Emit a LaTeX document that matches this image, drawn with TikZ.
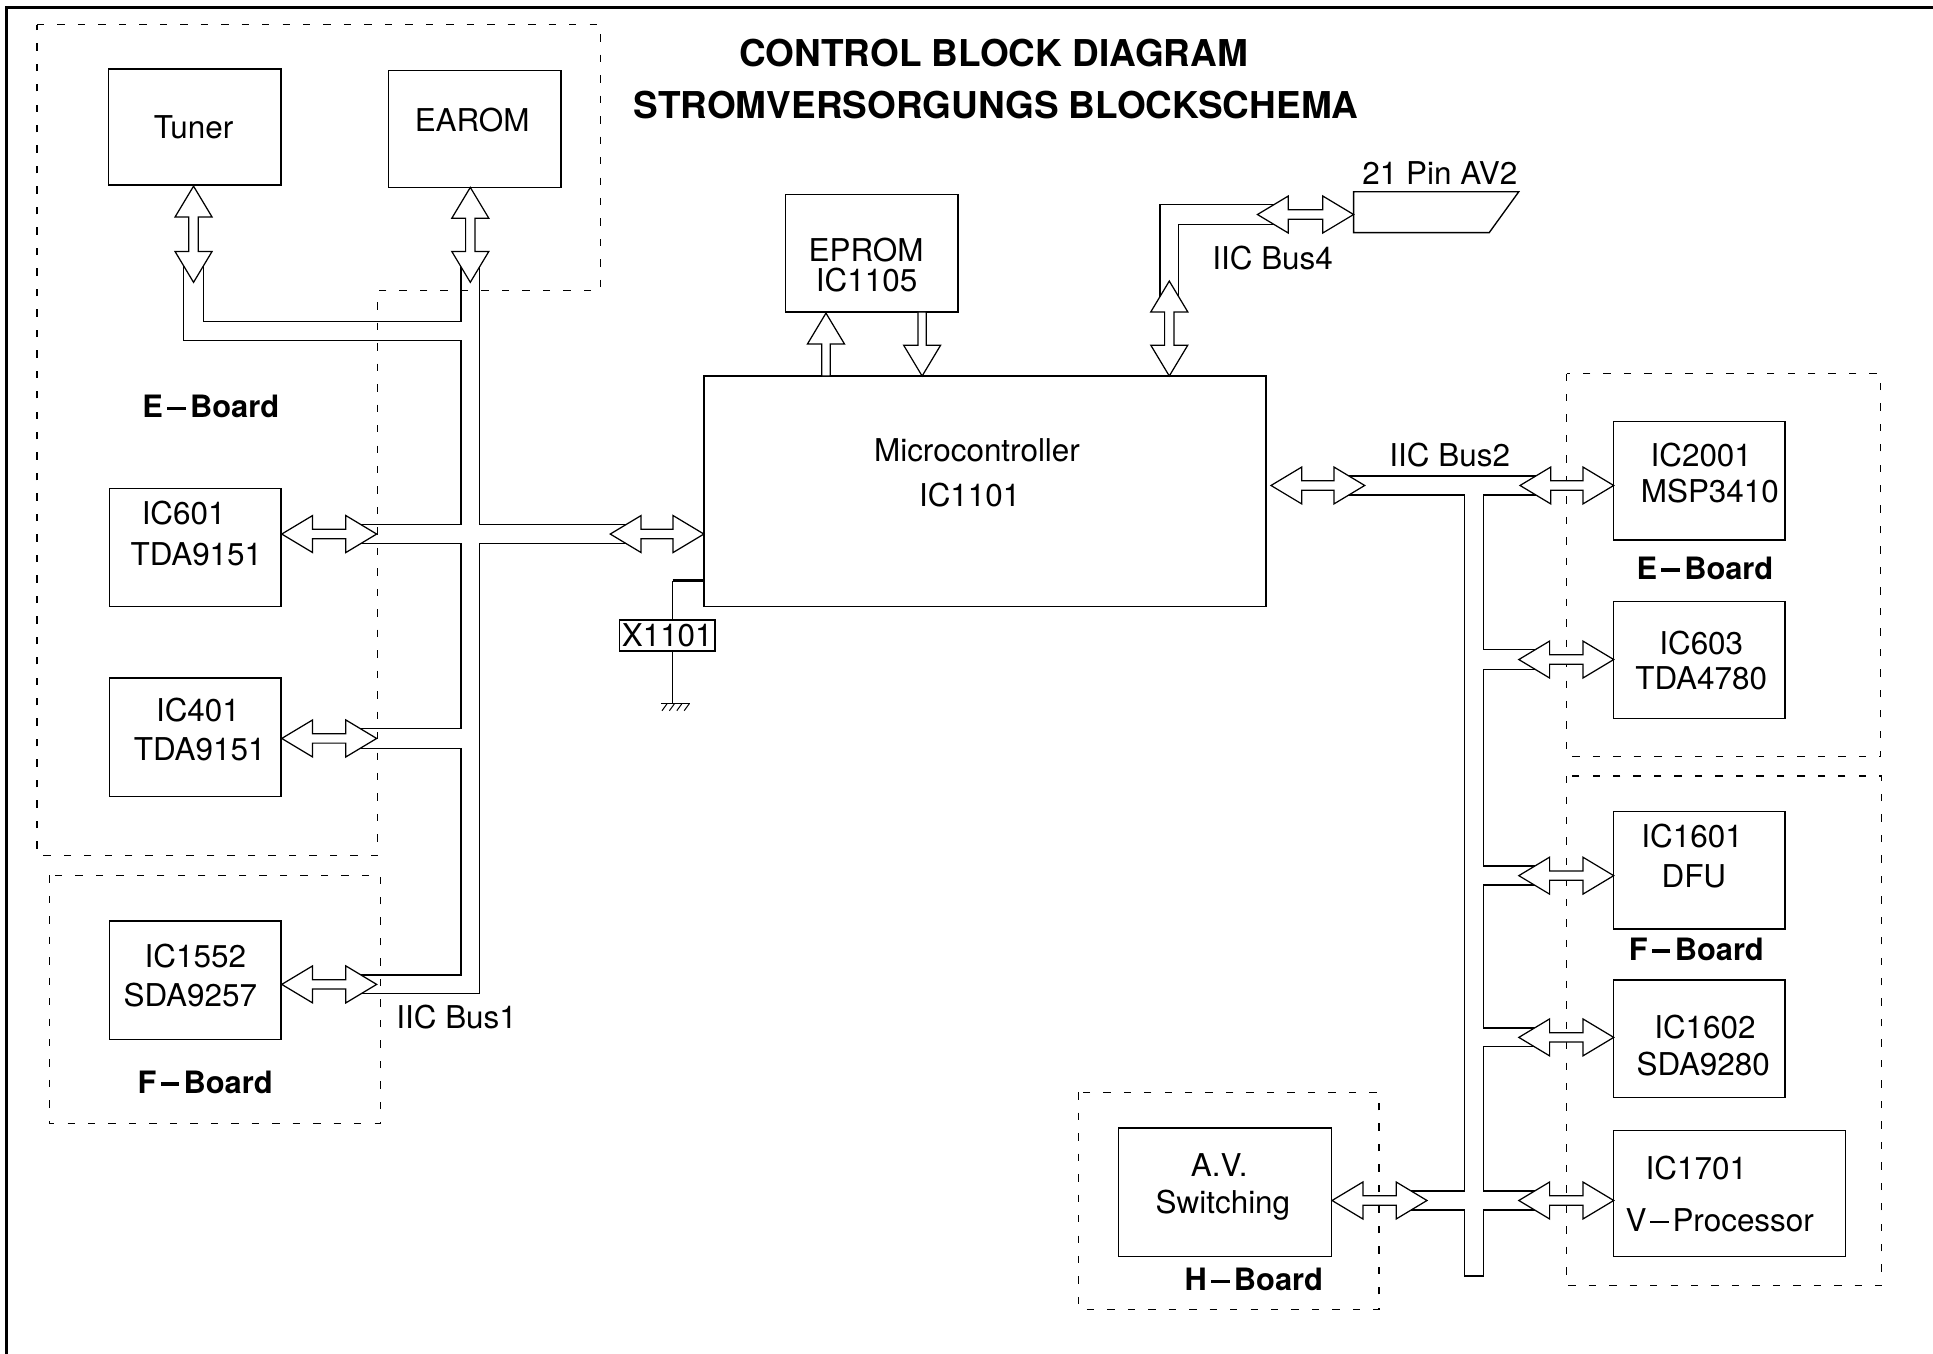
\documentclass[tikz,border=0pt]{standalone}
\usepackage{fontspec}
\setmainfont{TeX Gyre Heros}
\newcommand{\bdash}{\hspace{3.5pt}\rule[6.3pt]{15pt}{2.8pt}\hspace{3.5pt}}
\newcommand{\rdash}{\hspace{3pt}\rule[6.8pt]{15pt}{1.8pt}\hspace{3pt}}
\begin{document}
\begin{tikzpicture}[x=1pt,y=-1pt,
  ln/.style={line width=1.1pt, line join=miter},
  bus/.style={line width=1.1pt, line join=miter},
  arr/.style={draw, fill=white, line width=1pt, line join=miter},
  board/.style={line width=0.9pt, dash pattern=on 6pt off 10.6pt},
  box/.style 2 args={draw, line width=1.1pt, inner sep=0pt, minimum width=#1, minimum height=#2},
  txt/.style={inner sep=0pt, font=\fontsize{25.5}{30}\selectfont, text height=18pt, text depth=0pt},
  btxt/.style={inner sep=0pt, font=\bfseries\fontsize{25}{30}\selectfont, text height=18pt, text depth=0pt},
  ttl/.style={inner sep=0pt, font=\bfseries\fontsize{30}{36}\selectfont, text height=21.6pt, text depth=0pt},
  pics/darr/.style={code={%
    \draw[arr] (0,0) -- (25,15) -- (25,3.8) -- ({#1-25},3.8) -- ({#1-25},15) -- (#1,0)
      -- ({#1-25},-15) -- ({#1-25},-3.8) -- (25,-3.8) -- (25,-15) -- cycle;}},
  pics/sarr/.style={code={%
    \draw[arr] (0,3.4) -- ({#1-25},3.4) -- ({#1-25},15) -- (#1,0)
      -- ({#1-25},-15) -- ({#1-25},-3.4) -- (0,-3.4) -- cycle;}}
]
\useasboundingbox (0,0) rectangle (1568,1098);
\fill[white] (0,0) rectangle (1568,1098);

% outer frame (top and left edges)
\draw[line width=2.4pt] (4.9,1102) -- (4.9,5.7) -- (1572,5.7);

% title
\node[ttl] (title1) at (806,43) {CONTROL BLOCK DIAGRAM};
\node[ttl] (title2) at (808,85) {STROMVERSORGUNGS BLOCKSCHEMA};

% board outlines
\draw[board] (30,20) -- (487,20) -- (487,236) -- (306,236) -- (306,694) -- (30,694) -- cycle;
\draw[board] (40,710) rectangle (309,911);
\draw[board] (1271,303) rectangle (1525.6,614);
\draw[board] (1270.6,629.5) rectangle (1526.4,1043);
\draw[board] (875,886) rectangle (1118.6,1062);

% boxes
\node[box={140}{94}] (tuner) at (158,103) {};
\node[box={140}{95}] (earom) at (385,104.5) {};
\node[box={140}{95}] (eprom) at (707,205.5) {};
\node[box={456}{187}] (mc) at (799,398.5) {};
\node[box={139}{96}] (ic601) at (158.5,444) {};
\node[box={139}{96}] (ic401) at (158.5,598) {};
\node[box={139}{96}] (ic1552) at (158.5,795) {};
\node[box={139}{96}] (ic2001) at (1378.5,390) {};
\node[box={139}{95}] (ic603) at (1378.5,535.5) {};
\node[box={139}{95}] (ic1601) at (1378.5,706) {};
\node[box={139}{95}] (ic1602) at (1378.5,842.5) {};
\node[box={188}{102}] (ic1701) at (1403,968) {};
\node[box={172.5}{104}] (av) at (993.75,967) {};
\node[box={77.5}{25}, font=\fontsize{25.5}{30}\selectfont] (x1101) at (541.25,515.5) {X1101};

% 21 pin connector
\draw[ln] (1098,155.5) -- (1232,155.5) -- (1208,188.7) -- (1098,188.7) -- cycle;
\coordinate (av2) at (1098,172);

% texts
\node[txt] (tTuner) at (157,103) {Tuner};
\node[txt] (tEarom) at (383,98) {EAROM};
\node[btxt] (tEB1) at (171,330) {E\bdash Board};
\node[txt] (t601a) at (149,416.5) {IC601};
\node[txt] (t601b) at (159.3,449.4) {TDA9151};
\node[txt] (t401a) at (160.6,576) {IC401};
\node[txt] (t401b) at (162,607.5) {TDA9151};
\node[txt] (t1552a) at (158.5,775.4) {IC1552};
\node[txt] (t1552b) at (154.4,807.6) {SDA9257};
\node[btxt] (tFB1) at (166.4,878) {F\bdash Board};
\node[txt] (tBus1) at (370.4,825) {IIC Bus1};
\node[txt] (tEprA) at (702.5,203) {EPROM};
\node[txt] (tEprB) at (703,227.7) {IC1105};
\node[txt] (tMcA) at (792.5,365) {Microcontroller};
\node[txt] (tMcB) at (786.6,402) {IC1101};
\node[txt] (tBus4) at (1032.3,209.6) {IIC Bus4};
\node[txt] (tAV2) at (1168,140.6) {21 Pin AV2};
\node[txt] (tBus2) at (1176,369.7) {IIC Bus2};
\node[txt] (t2001a) at (1380,369) {IC2001};
\node[txt] (t2001b) at (1387,399) {MSP3410};
\node[btxt] (tEB2) at (1383,461) {E\bdash Board};
\node[txt] (t603a) at (1380,522) {IC603};
\node[txt] (t603b) at (1380,550) {TDA4780};
\node[txt] (t1601a) at (1372.6,678.6) {IC1601};
\node[txt] (t1601b) at (1374,711) {DFU};
\node[btxt] (tFB2) at (1376,770) {F\bdash Board};
\node[txt] (t1602a) at (1383,833) {IC1602};
\node[txt] (t1602b) at (1381.6,863.6) {SDA9280};
\node[txt] (t1701a) at (1376,948) {IC1701};
\node[txt] (t1701b) at (1395,990) {V\rdash Processor};
\node[txt] (tAvA) at (989,945) {A.V.};
\node[txt] (tAvB) at (992,975.5) {Switching};
\node[btxt] (tHB) at (1017,1038) {H\bdash Board};

% IIC Bus1 outline
\draw[bus] (165,210) -- (165,261) -- (374,261) -- (374,210);
\draw[bus] (149,210) -- (149,276) -- (374,276) -- (374,425.6) -- (285,425.6);
\draw[bus] (285,441) -- (374,441) -- (374,591) -- (285,591);
\draw[bus] (285,607) -- (374,607) -- (374,791) -- (285,791);
\draw[bus] (285,806) -- (389,806) -- (389,441) -- (515,441);
\draw[bus] (515,425.6) -- (389,425.6) -- (389,210);

% IIC Bus2 outline
\draw[bus] (1087,386) -- (1253,386);
\draw[bus] (1087,401.6) -- (1188,401.6) -- (1188,966) -- (1137,966);
\draw[bus] (1137,981.5) -- (1188,981.5) -- (1188,1035) -- (1203.5,1035) -- (1203.5,981.5) -- (1252,981.5);
\draw[bus] (1253,401.6) -- (1203.5,401.6) -- (1203.5,527) -- (1252,527);
\draw[bus] (1252,543) -- (1203.5,543) -- (1203.5,702.6) -- (1252,702.6);
\draw[bus] (1252,718) -- (1203.5,718) -- (1203.5,834) -- (1252,834);
\draw[bus] (1252,849) -- (1203.5,849) -- (1203.5,966) -- (1252,966);

% IIC Bus4 outline
\draw[bus] (941,248) -- (941,166) -- (1040,166);
\draw[bus] (956,248) -- (956,182) -- (1040,182);

% crystal X1101
\coordinate (xtop) at (545.6,471);
\draw[line width=2.4pt] (xtop) -- (mc.west |- xtop);
\draw[ln] (xtop) -- (xtop |- x1101.north);
\coordinate (gnd) at (545.6,571);
\draw[ln] (xtop |- x1101.south) -- (gnd);
\draw[line width=0.9pt] (536,571) -- (560,571);
\foreach \gx in {539,545,551,557} \draw[line width=0.8pt] (\gx+2,571) -- (\gx-2,576.5);

% arrows
\path (157,151) pic[rotate=-90] {darr=78};
\path (381.5,152) pic[rotate=-90] {darr=77};
\path (948.5,228) pic[rotate=-90] {darr=77};
\path (ic601.east |- 0,433.2) pic {darr=77};
\path (ic401.east |- 0,599) pic {darr=77};
\path (ic1552.east |- 0,798.5) pic {darr=77};
\path (495,433.2) pic {darr=76};
\path (1031,393.8) pic {darr=76};
\path (1233,393.8) pic {darr=76};
\path (1232,535) pic {darr=77};
\path (1232,710.3) pic {darr=77};
\path (1232,841.5) pic {darr=77};
\path (1232,973.8) pic {darr=77};
\path (av.east |- 0,973.8) pic {darr=77};
\path (1020,174) pic {darr=78};
\path (670,305) pic[rotate=90] {sarr=51};
\path (748,253) pic[rotate=-90] {sarr=52};
\end{tikzpicture}
\end{document}
